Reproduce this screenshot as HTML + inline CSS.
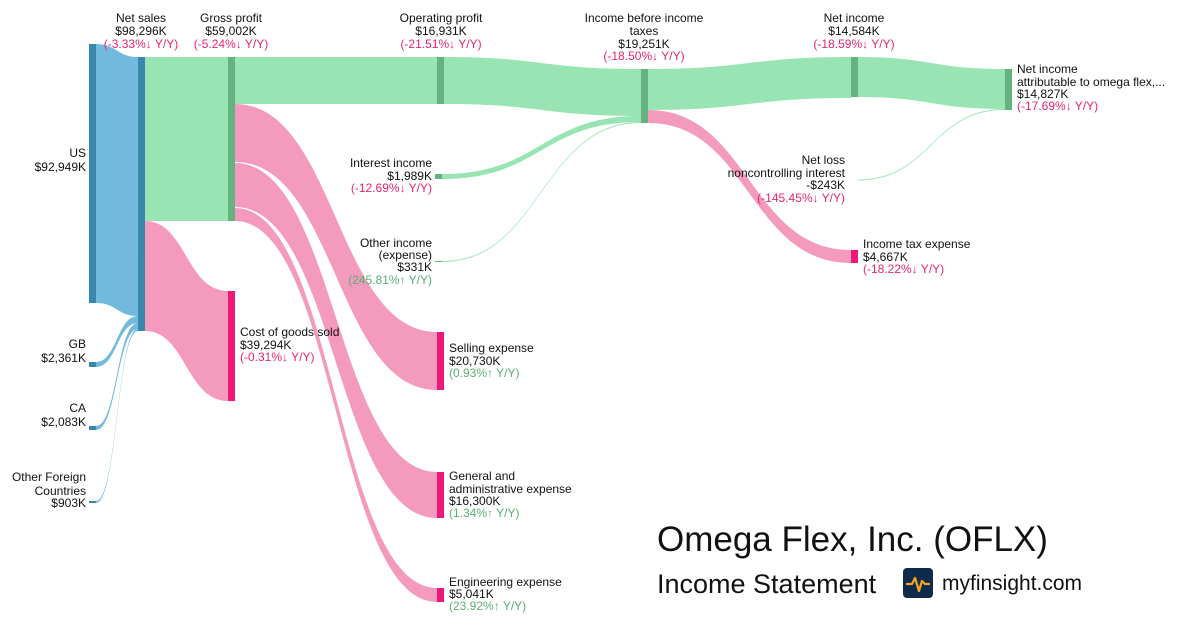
<!DOCTYPE html>
<html><head><meta charset="utf-8"><style>
html,body{margin:0;padding:0;background:#fff;}
svg{display:block;font-family:"Liberation Sans",sans-serif;}
.t{font-size:12px;fill:#111;}
.r{font-size:12px;fill:#e8256f;}
.g{font-size:12px;fill:#5aae74;}
</style></head><body>
<svg width="1200" height="630" viewBox="0 0 1200 630" xmlns="http://www.w3.org/2000/svg">
<g fill="#6bb7dc" opacity="0.95">
<path d="M96,44 C117,44 117,57 138,57 L138,316 C117,316 117,303 96,303 Z"/>
<path d="M96,362 C117,362 117,316 138,316 L138,323 C117,323 117,367 96,367 Z"/>
<path d="M96,426 C117,426 117,323 138,323 L138,329 C117,329 117,430 96,430 Z"/>
<path d="M96,501 C117,501 117,329 138,329 L138,331 C117,331 117,503 96,503 Z"/>
</g>
<g fill="#98e5b3">
<path d="M145,57 L228,57 L228,221 L145,221 Z"/>
<path d="M235,57 L437,57 L437,104 L235,104 Z"/>
<path d="M444,57 C542,57 542,69 641,69 L641,116 C542,116 542,104 444,104 Z"/>
<path d="M442,174 C541,174 541,116 641,116 L641,122 C541,122 541,179 442,179 Z"/>
<path d="M442,261 C541,261 541,122 641,122 L641,123 C541,123 541,262 442,262 Z"/>
<path d="M648,69 C749,69 749,57 851,57 L851,98 C749,98 749,110 648,110 Z"/>
<path d="M858,57 C931,57 931,69 1005,69 L1005,109 C931,109 931,97 858,97 Z"/>
<path d="M858,179.5 C931,179.5 931,109 1005,109 L1005,110 C931,110 931,180.5 858,180.5 Z"/>
</g>
<g fill="#f39abd">
<path d="M145,221 C186,221 186,291 228,291 L228,401 C186,401 186,331 145,331 Z"/>
<path d="M235,104 C336,104 336,332 437,332 L437,390 C336,390 336,162 235,162 Z"/>
<path d="M235,163 C336,163 336,472 437,472 L437,518 C336,518 336,207 235,207 Z"/>
<path d="M235,208 C336,208 336,588 437,588 L437,602 C336,602 336,221 235,221 Z"/>
<path d="M648,110 C749,110 749,250 851,250 L851,263 C749,263 749,123 648,123 Z"/>
</g>
<g fill="#3a87ad">
<rect x="89" y="44" width="7" height="259"/>
<rect x="89" y="362" width="7" height="5"/>
<rect x="89" y="426" width="7" height="4"/>
<rect x="89" y="501" width="7" height="2"/>
<rect x="138" y="57" width="7" height="274"/>
</g>
<g fill="#64b27f">
<rect x="228" y="57" width="7" height="164"/>
<rect x="437" y="57" width="7" height="47"/>
<rect x="435" y="174" width="7" height="5"/>
<rect x="435" y="261" width="7" height="1"/>
<rect x="641" y="69" width="7" height="54"/>
<rect x="851" y="57" width="7" height="40"/>
<rect x="1005" y="69" width="7" height="41"/>
</g>
<g fill="#f0177a">
<rect x="228" y="291" width="7" height="110"/>
<rect x="437" y="332" width="7" height="58"/>
<rect x="437" y="472" width="7" height="46"/>
<rect x="437" y="588" width="7" height="14"/>
<rect x="851" y="250" width="7" height="13"/>
</g>
<g text-anchor="end">
<text class="t" x="86" y="157">US</text><text class="t" x="86" y="171">$92,949K</text>
<text class="t" x="86" y="348">GB</text><text class="t" x="86" y="362">$2,361K</text>
<text class="t" x="86" y="412">CA</text><text class="t" x="86" y="426">$2,083K</text>
<text class="t" x="86" y="481">Other Foreign</text><text class="t" x="86" y="495">Countries</text><text class="t" x="86" y="507">$903K</text>
<text class="t" x="432" y="167">Interest income</text><text class="t" x="432" y="180">$1,989K</text><text class="r" x="432" y="192">(-12.69%↓ Y/Y)</text>
<text class="t" x="432" y="247">Other income</text><text class="t" x="432" y="259">(expense)</text><text class="t" x="432" y="271">$331K</text><text class="g" x="432" y="284">(245.81%↑ Y/Y)</text>
<text class="t" x="845" y="164">Net loss</text><text class="t" x="845" y="177">noncontrolling interest</text><text class="t" x="845" y="189">-$243K</text><text class="r" x="845" y="202">(-145.45%↓ Y/Y)</text>
</g>
<g text-anchor="middle">
<text class="t" x="141" y="22">Net sales</text><text class="t" x="141" y="35">$98,296K</text><text class="r" x="141" y="48">(-3.33%↓ Y/Y)</text>
<text class="t" x="231" y="22">Gross profit</text><text class="t" x="231" y="35">$59,002K</text><text class="r" x="231" y="48">(-5.24%↓ Y/Y)</text>
<text class="t" x="441" y="22">Operating profit</text><text class="t" x="441" y="35">$16,931K</text><text class="r" x="441" y="48">(-21.51%↓ Y/Y)</text>
<text class="t" x="644" y="22">Income before income</text><text class="t" x="644" y="35">taxes</text><text class="t" x="644" y="48">$19,251K</text><text class="r" x="644" y="60">(-18.50%↓ Y/Y)</text>
<text class="t" x="854" y="22">Net income</text><text class="t" x="854" y="35">$14,584K</text><text class="r" x="854" y="48">(-18.59%↓ Y/Y)</text>
</g>
<g>
<text class="t" x="240" y="336">Cost of goods sold</text><text class="t" x="240" y="349">$39,294K</text><text class="r" x="240" y="361">(-0.31%↓ Y/Y)</text>
<text class="t" x="449" y="352">Selling expense</text><text class="t" x="449" y="365">$20,730K</text><text class="g" x="449" y="377">(0.93%↑ Y/Y)</text>
<text class="t" x="449" y="480">General and</text><text class="t" x="449" y="493">administrative expense</text><text class="t" x="449" y="505">$16,300K</text><text class="g" x="449" y="517">(1.34%↑ Y/Y)</text>
<text class="t" x="449" y="586">Engineering expense</text><text class="t" x="449" y="598">$5,041K</text><text class="g" x="449" y="610">(23.92%↑ Y/Y)</text>
<text class="t" x="863" y="248">Income tax expense</text><text class="t" x="863" y="261">$4,667K</text><text class="r" x="863" y="273">(-18.22%↓ Y/Y)</text>
<text class="t" x="1017" y="73">Net income</text><text class="t" x="1017" y="86">attributable to omega flex,...</text><text class="t" x="1017" y="98">$14,827K</text><text class="r" x="1017" y="110">(-17.69%↓ Y/Y)</text>
</g>
<text x="657" y="551" font-size="35" fill="#111">Omega Flex, Inc. (OFLX)</text>
<text x="657" y="593" font-size="27" fill="#111">Income Statement</text>
<rect x="903" y="568" width="30" height="30" rx="4" fill="#0f2a4a"/>
<path d="M907,584 L912,584 L915,578 L919,591 L922,581 L925,584 L929,584" fill="none" stroke="#f5a524" stroke-width="2.2" stroke-linejoin="round" stroke-linecap="round"/>
<text x="942" y="590" font-size="21" fill="#111">myfinsight.com</text>
</svg>
</body></html>
